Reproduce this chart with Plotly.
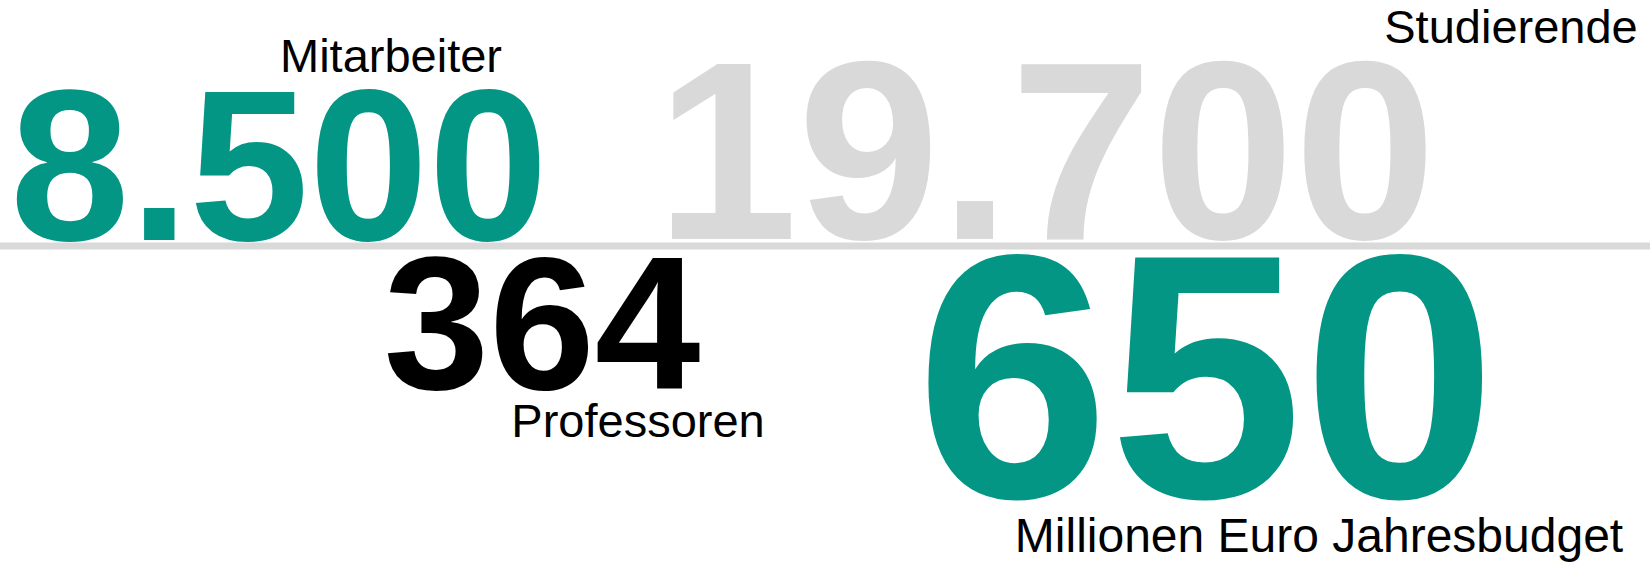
import plotly.graph_objects as go

# Key figures
values = ["8.500", "19.700", "364", "650"]
labels = ["Mitarbeiter", "Studierende", "Professoren", "Millionen Euro Jahresbudget"]

# Layout (pixel coordinates, y grows downward)
value_x = [279, 1046, 542, 1206]
value_y = [186, 175, 341, 410]
value_size = [215, 255, 190, 348]
value_color = ["#049685", "#d9d9d9", "#000000", "#049685"]

label_x = [391, 1511, 638, 1319]
label_y = [60, 31, 425, 540]
label_size = [47, 47, 47, 48]

divider_x = [0, 1650]
divider_y = [246, 246]

fig = go.Figure()

fig.add_trace(go.Scatter(
    x=divider_x, y=divider_y, mode="lines",
    line=dict(color="#d9d9d9", width=7),
    hoverinfo="skip", showlegend=False,
))

fig.add_trace(go.Scatter(
    x=value_x, y=value_y, mode="text", text=values,
    textposition="middle center",
    textfont=dict(family="Liberation Sans, Arial, sans-serif",
                  size=value_size, color=value_color, weight="bold"),
    hoverinfo="skip", showlegend=False,
))

fig.add_trace(go.Scatter(
    x=label_x, y=label_y, mode="text", text=labels,
    textposition="middle center",
    textfont=dict(family="Liberation Sans, Arial, sans-serif",
                  size=label_size, color="#000000"),
    hoverinfo="skip", showlegend=False,
))

fig.update_layout(
    width=1650, height=567,
    margin=dict(l=0, r=0, t=0, b=0),
    paper_bgcolor="white", plot_bgcolor="white",
    xaxis=dict(range=[0, 1650], visible=False, fixedrange=True),
    yaxis=dict(range=[567, 0], visible=False, fixedrange=True),
)

fig.write_html(
    "out.html",
    config={"displayModeBar": False},
    post_script="document.body.style.margin='0';document.body.style.overflow='hidden';",
)
